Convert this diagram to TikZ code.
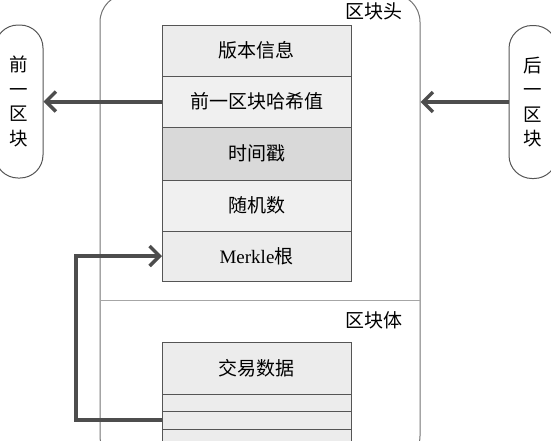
\documentclass[tikz,border=0pt]{standalone}
\usepackage{fontspec}
\setmainfont{Liberation Serif}
\newfontfamily\cjk{Noto Sans CJK SC}
\usetikzlibrary{arrows.meta}
\definecolor{rowA}{HTML}{ECECEC}
\definecolor{rowB}{HTML}{F0F0F0}
\definecolor{rowC}{HTML}{D9D9D9}
\definecolor{edge}{HTML}{555555}
\definecolor{arrowc}{HTML}{4D4D4D}
\begin{document}
\begin{tikzpicture}[x=1pt,y=-1pt,
  row/.style={draw=edge, line width=1pt, minimum width=189pt, inner sep=0pt, outer sep=0pt,
    font=\cjk\fontsize{19}{22}\selectfont},
  side/.style={draw=edge, line width=1pt, rounded corners=23pt, minimum width=48pt, minimum height=153pt,
    inner sep=0pt, align=center, font=\cjk\fontsize{18.5}{24.5}\selectfont},
  lab/.style={font=\cjk\fontsize{19}{22}\selectfont, inner sep=0pt},
  arr/.style={draw=arrowc, line width=4pt, -{Straight Barb[length=10pt,width=20pt,line width=3.5pt]}}
]
\useasboundingbox (0,0) rectangle (551,440);
\clip (0,0) rectangle (551,440);
% container
\node[draw=black!55, line width=1pt, rounded corners=28pt, minimum width=320pt, minimum height=470pt, inner sep=0pt] (blk) at (260,229) {};
\draw[black!35, line width=0.8pt] (100,300) -- (420,300);
\node[lab] (hdrlab) at (374,11) {区块头};
\node[lab] (bodylab) at (374,320) {区块体};
% header rows
\node[row, fill=rowA, minimum height=51pt] (r1) at (256.5,50.5) {版本信息};
\node[row, fill=rowB, minimum height=51pt] (r2) at (256.5,101.5) {前一区块哈希值};
\node[row, fill=rowC, minimum height=53pt] (r3) at (256.5,153.5) {时间戳};
\node[row, fill=rowB, minimum height=51pt] (r4) at (256.5,205.5) {随机数};
\node[row, fill=rowA, minimum height=50pt] (r5) at (256.5,256) {{\rmfamily Merkle}根};
% body rows
\node[row, fill=rowA, minimum height=52pt] (b1) at (256.5,368) {交易数据};
\node[row, fill=rowA, minimum height=17pt] (b2) at (256.5,402.5) {};
\node[row, fill=rowA, minimum height=18pt] (b3) at (256.5,420) {};
\node[row, fill=rowA, minimum height=18pt] (b4) at (256.5,438) {};
% side blocks
\node[side] (prev) at (19,101.5) {前\\一\\区\\块};
\node[side] (next) at (533,102) {后\\一\\区\\块};
% arrows
\draw[arr] (r2.west) -- (prev.east);
\draw[arr] (next.west) -- (blk.east |- next.west);
\coordinate (mk) at (76,420);
\draw[arr] (b3.west) -- (mk) |- (r5.west);
\end{tikzpicture}
\end{document}
